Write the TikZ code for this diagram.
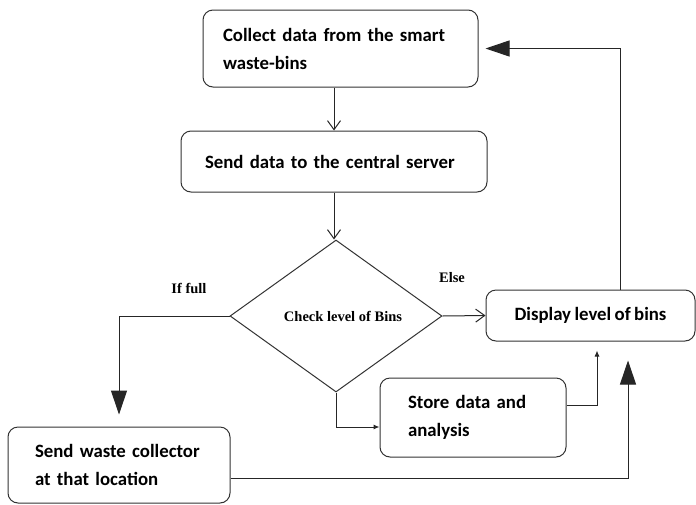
\documentclass[tikz,border=0pt]{standalone}
\usepackage{fontspec}
\setmainfont{Carlito}[WordSpace={0.8}]
\newfontfamily\serifb{Liberation Serif}
\usetikzlibrary{shapes.geometric,arrows.meta}
\begin{document}
\begin{tikzpicture}[x=1pt,y=-1pt,
  box/.style={draw=black!80, line width=1pt, rounded corners=10pt,
    font=\fontsize{18.8}{28}\selectfont\bfseries, inner ysep=0pt},
  lbox/.style={box, align=left},
  lbl/.style={font=\serifb\fontsize{14.5}{16}\selectfont\bfseries, inner sep=0pt},
  conn/.style={draw=black!85, line width=1pt},
  openarr/.style={conn, -{Straight Barb[length=9pt,width=13pt]}},
  bigarr/.style={conn, -{Triangle[length=24pt,width=16pt]}},
  smallarr/.style={conn, -{Latex[length=6pt,width=5pt]}}]
\useasboundingbox (0,0) rectangle (696,504);
\fill[white] (0,0) rectangle (696,504);

\node[lbox, minimum width=275pt, minimum height=77pt, text width=235pt, inner xsep=20pt]
  (collect) at (340.5,48.5) {Collect data from the smart\\waste-bins};
\node[lbox, minimum width=306pt, minimum height=61pt, text width=258pt, inner xsep=24pt]
  (send) at (334,161.5) {Send data to the central server};
\node[draw=black!80, line width=1pt, shape=diamond, minimum width=212pt, minimum height=152pt, inner sep=0pt]
  (dia) at (336,316) {};
\node[lbl] (check) at (343,316) {Check level of Bins};
\node[box, minimum width=209pt, minimum height=51pt, align=center]
  (disp) at (590.5,315.5) {Display level of bins};
\node[lbox, minimum width=186pt, minimum height=79pt, text width=130pt, inner xsep=28pt]
  (store) at (473,417.5) {Store data and\\analysis};
\node[lbox, minimum width=222pt, minimum height=76pt, text width=168pt, inner xsep=27pt]
  (waste) at (119,465) {Send waste collector\\at that location};
\node[lbl] (iffull) at (189,288) {If full};
\node[lbl] (else) at (452,278) {Else};

\draw[openarr] (send.north |- collect.south) -- (send.north);
\draw[openarr] (send.south) -- (send.south |- dia.north);
\draw[openarr] (dia.east) -- (disp.west);
\draw[bigarr, shorten >=12pt] (dia.west) -| (waste.north);
\draw[bigarr, shorten >=7pt] ([xshift=29.5pt]disp.north) |- (collect.east);
\draw[smallarr] (dia.south) |- ([yshift=-9.5pt]store.west);
\draw[smallarr, shorten >=9pt] ([yshift=12.5pt]store.east) -| ([xshift=6.5pt]disp.south);
\draw[bigarr, shorten >=19pt] ([yshift=-13pt]waste.east) -| ([xshift=37.5pt]disp.south);
\end{tikzpicture}
\end{document}
